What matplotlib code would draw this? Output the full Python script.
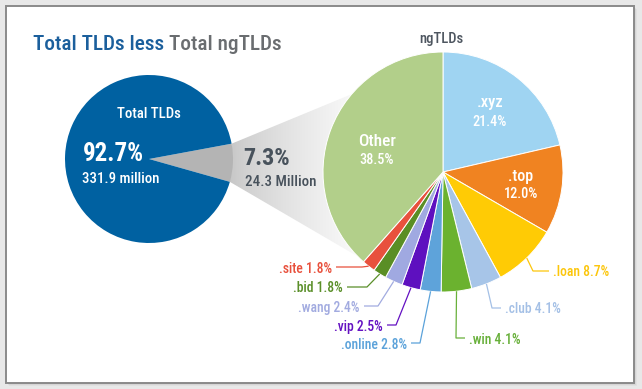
import matplotlib
matplotlib.use("Agg")
import matplotlib.pyplot as plt
import numpy as np
from matplotlib import font_manager
from matplotlib.patches import Polygon, Rectangle
from matplotlib.colors import to_rgb

# ---- data ----
total_label = "Total TLDs"
total_share = 92.7
total_count = "331.9 million"
ng_share = 7.3
ng_count = "24.3 Million"

ng_names = [".xyz", ".top", ".loan", ".club", ".win", ".online", ".vip", ".wang", ".bid", ".site", "Other"]
ng_values = [21.4, 12.0, 8.7, 4.1, 4.1, 2.8, 2.5, 2.4, 1.8, 1.8, 38.5]
ng_colors = ["#9fd4f2", "#f08321", "#ffcb05", "#a7c5e8", "#6bb22f", "#5ea3da",
             "#5e10bf", "#a0a9e1", "#5a8e25", "#e8513d", "#b2cf8a"]
label_colors = {".loan": "#fcc60c", ".club": "#a4c0e6", ".win": "#68b03a", ".online": "#5ba2da",
                ".vip": "#6411c2", ".wang": "#a2abe0", ".bid": "#5a8f29", ".site": "#e8503c"}

# ---- font: look for a narrow face, else Roboto a bit smaller ----
fl = font_manager.fontManager.ttflist
names = {f.name for f in fl}
FONT, STRETCH, SCALE = None, "normal", 1.0
for c in ["Roboto Condensed", "Liberation Sans Narrow", "Open Sans Condensed", "DejaVu Sans Condensed"]:
    if c in names:
        FONT = c
        break
if FONT is None:
    cond = [f for f in fl if str(f.stretch) in ("condensed", "semi-condensed", "extra-condensed")
            and "Sans" in f.name and "Mono" not in f.name]
    if cond:
        FONT, STRETCH = cond[0].name, "condensed"
    else:
        FONT, SCALE = "Roboto", 0.86
plt.rcParams["font.family"] = [FONT, "DejaVu Sans"]
plt.rcParams["font.stretch"] = STRETCH
plt.rcParams["font.weight"] = "medium"

W, H = 642, 389


def Y(y):
    # picture rows (from top) -> axis units (from bottom)
    return H - y


def fs(v):
    return v * SCALE


fig = plt.figure(figsize=(6.42, 3.89), dpi=100, facecolor="#e8e8e8")
ax = fig.add_axes([0, 0, 1, 1])

# card with a soft shadow
for i, a in enumerate([0.10, 0.08, 0.06]):
    ax.add_patch(Rectangle((6 + i + 1, Y(383 + i + 1)), 628, 377, facecolor="#606060",
                           edgecolor="none", alpha=a, zorder=0))
ax.add_patch(Rectangle((6, Y(383)), 628, 377, facecolor="white", edgecolor="#8a8a8a",
                       lw=1.4, zorder=0.5))

# left pie: total TLDs with the ngTLD share cut out
lc, lr = (149, Y(159)), 84
lw, _ = ax.pie([ng_share, total_share], colors=["#b4b4b4", "#0061a1"], startangle=10.5,
               counterclock=False, center=lc, radius=lr, frame=True,
               wedgeprops=dict(linewidth=0, zorder=3))

# fan from the cut-out wedge to the ngTLD pie
rc, rr = (443, Y(172)), 120
g = lw[0]
p1 = (lc[0] + lr * np.cos(np.radians(g.theta2)), lc[1] + lr * np.sin(np.radians(g.theta2)))
p2 = (lc[0] + lr * np.cos(np.radians(g.theta1)), lc[1] + lr * np.sin(np.radians(g.theta1)))
fan = Polygon([p1, (352, Y(94)), (405, rc[1]), (357, Y(256)), p2], closed=True,
              facecolor="none", edgecolor="none", transform=ax.transData)
ax.add_patch(fan)
c0, c1 = np.array(to_rgb("#c6c6c6")), np.array(to_rgb("#fbfbfb"))
t = np.linspace(0, 1, 200) ** 0.75
grad = (c0[None, :] * (1 - t[:, None]) + c1[None, :] * t[:, None])[None, :, :]
im = ax.imshow(grad, extent=(p2[0], 360, Y(256), Y(94)), aspect="auto", zorder=2,
               interpolation="bilinear")
im.set_clip_path(fan)

# right pie: ngTLDs
wedges, _ = ax.pie(ng_values, colors=ng_colors, startangle=90, counterclock=False,
                   center=rc, radius=rr, frame=True,
                   wedgeprops=dict(linewidth=0.7, edgecolor="white", zorder=4))

ax.set_xlim(0, W)
ax.set_ylim(0, H)
ax.set_aspect("auto")
ax.axis("off")

# ---- texts ----
t1 = ax.text(33, Y(50), "Total TLDs less", color="#1b5f9c", fontsize=fs(15.3), va="baseline", zorder=6)
ax.annotate("Total ngTLDs", xy=(1, 0), xycoords=t1, xytext=(3.5, 0), textcoords="offset points",
            color="#6a6d70", fontsize=fs(15.3), va="bottom", zorder=6)

ax.text(149, Y(118), total_label, color="white", fontsize=fs(10.6), ha="center", va="baseline", zorder=6)
ax.text(83, Y(161), f"{total_share}%", color="white", fontsize=fs(18), fontweight="bold",
        va="baseline", zorder=6)
ax.text(82, Y(183), total_count, color="white", fontsize=fs(10.6), va="baseline", zorder=6)
ax.text(243, Y(165), f"{ng_share}%", color="#48525c", fontsize=fs(17.5), fontweight="bold",
        va="baseline", zorder=6)
ax.text(245, Y(186), ng_count, color="#48525c", fontsize=fs(10.8), va="baseline", zorder=6)
ax.text(441, Y(43), "ngTLDs", color="#4e5660", fontsize=fs(10.5), ha="center", va="baseline", zorder=6)

# labels inside the big wedges
inner = {".xyz": (490, 107, 126, 12), ".top": (521, 181, 198, 11.5), "Other": (377, 146, 164, 12.5)}
for name, v in zip(ng_names, ng_values):
    if name in inner:
        x, yb1, yb2, s = inner[name]
        ax.text(x, Y(yb1), name, color="white", fontsize=fs(s), ha="center", va="baseline", zorder=6)
        ax.text(x, Y(yb2), f"{v}%", color="white", fontsize=fs(10.3), ha="center", va="baseline", zorder=6)

# labels outside with leader lines: elbow (x, y), text edge x, baseline y
outer = {".site": (362, 267, 332, 273), ".bid": (367, 287, 343, 292),
         ".wang": (378, 306, 360, 312), ".vip": (396, 325, 383, 331),
         ".online": (420, 343, 407, 349), ".win": (456, 338, 469, 344),
         ".club": (492, 308, 505, 313), ".loan": (533, 271, 553, 276)}
for w, name, v in zip(wedges, ng_names, ng_values):
    if name not in outer:
        continue
    ex, ey, tx, tb = outer[name]
    col = label_colors[name]
    mid = np.radians((w.theta1 + w.theta2) / 2)
    ax_, ay_ = rc[0] + rr * np.cos(mid), rc[1] + rr * np.sin(mid)
    right = tx > ex
    hx = tx - 4 if right else tx + 4
    ax.plot([ax_, ex, hx], [ay_, Y(ey), Y(ey)], color=col, lw=0.9, zorder=5,
            solid_capstyle="butt")
    ax.text(tx, Y(tb), f"{name} {v}%", color=col, fontsize=fs(9.8),
            ha="left" if right else "right", va="baseline", zorder=6)

fig.savefig("out.png", dpi=100, facecolor=fig.get_facecolor())
